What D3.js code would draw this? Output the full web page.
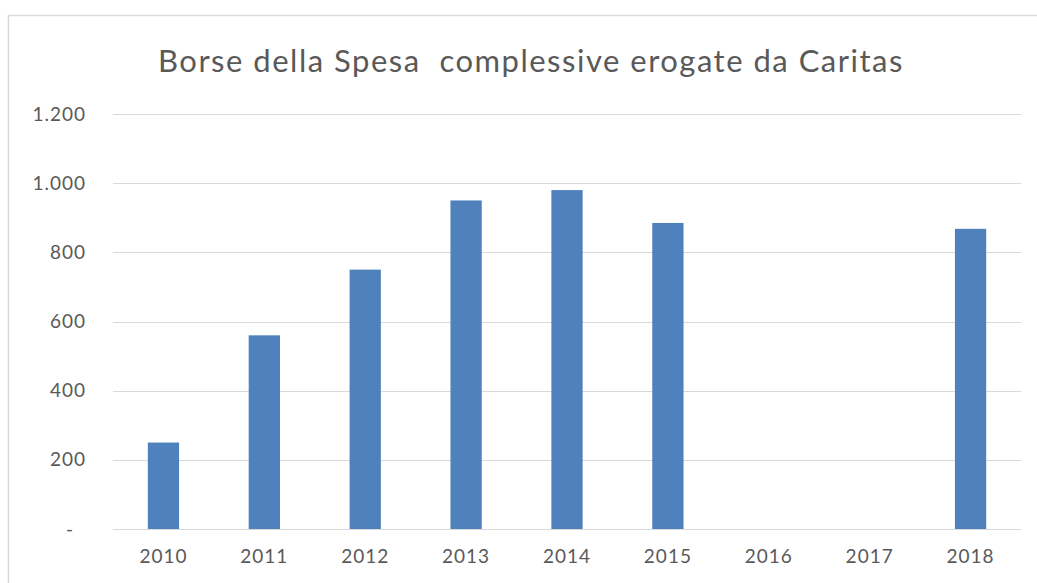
<!DOCTYPE html>
<html>
<head>
  <meta charset="utf-8">
  <title>Borse della Spesa</title>
  <script src="https://d3js.org/d3.v7.min.js"></script>
  <style>
    body {
      margin: 0;
      padding: 0;
      background: #fff;
    }
    text {
      font-family: Lato, "Open Sans", sans-serif;
      fill: #595959;
    }
  </style>
</head>
<body>
  <div id="chart"></div>
  <script>
    // data
    var years = ["2010", "2011", "2012", "2013", "2014", "2015", "2016", "2017", "2018"]
    var bags = [250, 560, 750, 950, 980, 885, 0, 0, 868]
    var yTicks = [0, 200, 400, 600, 800, 1000, 1200]
    var title = "Borse della Spesa\u00a0\u00a0complessive erogate da Caritas"

    var W = 1037, H = 583
    var margin = { top: 114, right: 16, bottom: 54, left: 113 },
      width = 1021 - margin.left,
      height = 529 - margin.top

    var svg = d3.select("#chart")
      .append("svg")
      .attr("width", W)
      .attr("height", H)

    // chart frame (bottom and right fall outside the picture)
    svg.append("rect")
      .attr("x", 8.5)
      .attr("y", 15.5)
      .attr("width", W + 20)
      .attr("height", H + 20)
      .attr("fill", "none")
      .attr("stroke", "#d9d9d9")
      .attr("stroke-width", 1.5)

    svg.append("text")
      .attr("x", 531)
      .attr("y", 72)
      .attr("text-anchor", "middle")
      .style("font-size", "31px")
      .style("letter-spacing", "1.5px")
      .text(title)

    var g = svg.append("g")
      .attr("transform", "translate(" + margin.left + "," + margin.top + ")")

    var x = d3.scaleBand()
      .domain(years)
      .range([0, width])
      .paddingInner(0.69)
      .paddingOuter(0.345)

    var y = d3.scaleLinear()
      .domain([0, 1200])
      .range([height, 0])

    // gridlines
    g.append("g")
      .selectAll("line")
      .data(yTicks)
      .enter()
      .append("line")
      .attr("x1", 0)
      .attr("x2", width)
      .attr("y1", function (d) { return Math.round(y(d)) + 0.5 })
      .attr("y2", function (d) { return Math.round(y(d)) + 0.5 })
      .attr("stroke", "#d9d9d9")
      .attr("stroke-width", 1.2)

    // y axis labels
    var yAxis = d3.axisLeft(y)
      .tickValues(yTicks)
      .tickSize(0)
      .tickPadding(27)
      .tickFormat(function (d) {
        if (d == 0) return "-"
        return d3.format(",")(d).replace(/,/g, ".")
      })
    var ya = g.append("g").call(yAxis)
    ya.select(".domain").remove()
    ya.selectAll("text")
      .style("font-size", "19px")
      .style("letter-spacing", "1px")
      .style("font-family", "Lato, 'Open Sans', sans-serif")
      .attr("fill", "#595959")
    ya.selectAll(".tick")
      .filter(function (d) { return d == 0 })
      .select("text")
      .attr("dx", -12)

    // bars
    g.selectAll("rect.bar")
      .data(bags)
      .enter()
      .append("rect")
      .attr("class", "bar")
      .attr("x", function (d, i) { return x(years[i]) })
      .attr("y", function (d) { return y(d) })
      .attr("width", x.bandwidth())
      .attr("height", function (d) { return height - y(d) })
      .attr("fill", "#4f81bd")

    // x axis labels
    var xAxis = d3.axisBottom(x)
      .tickSize(0)
      .tickPadding(21)
    var xa = g.append("g")
      .attr("transform", "translate(0," + height + ")")
      .call(xAxis)
    xa.select(".domain").remove()
    xa.selectAll("text")
      .style("font-size", "19px")
      .style("letter-spacing", "1px")
      .style("font-family", "Lato, 'Open Sans', sans-serif")
      .attr("fill", "#595959")
  </script>
</body>
</html>
